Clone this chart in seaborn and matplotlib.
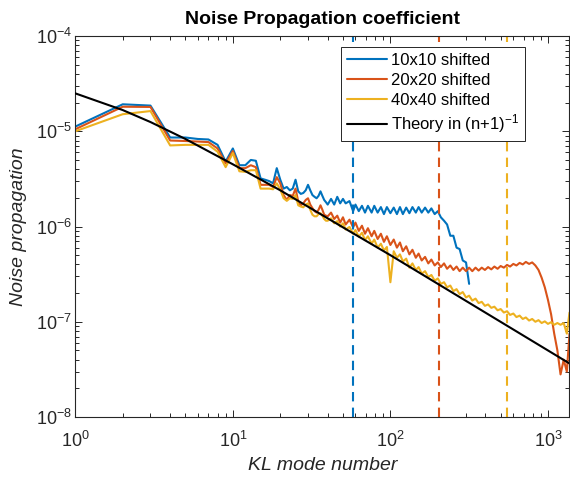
import numpy as np
import pandas as pd
import matplotlib
matplotlib.use("Agg")
import matplotlib.pyplot as plt
from matplotlib.lines import Line2D
from matplotlib.ticker import LogLocator, NullFormatter
import seaborn as sns

# ---------------- data (values in units of 1e-7) ----------------
UNIT = 1e-7

early_modes = list(range(1, 40))
grid_modes = [40, 42, 44, 46, 48, 50, 52, 55, 58, 60, 63, 66, 69, 72, 76, 79, 83, 87, 91, 95,
              100, 105, 110, 115, 120, 126, 132, 138, 145, 151, 158, 166, 174, 182, 191, 200,
              209, 219, 229, 240, 251, 263, 275, 288, 302, 316, 331, 347, 363, 380, 398, 417,
              437, 457, 479, 501, 525, 550, 575, 603, 631, 661, 692, 724, 759, 794, 832, 871,
              912, 955, 1000, 1047, 1096, 1148, 1202, 1259, 1318, 1370]

blue_early = [112, 192, 186, 86, 86, 83, 82, 72, 48, 66, 44, 44, 50, 49, 32, 31, 30, 28.4, 41, 31,
              25, 26, 24, 25, 31, 23.4, 22, 22.5, 24, 27.4, 24, 21.4, 20.5, 19.8, 21, 23.4, 21, 19, 18]
blue_grid = [17, 19.5, 17, 20.5, 17.5, 19.5, 17.5, 18.5, 14.5, 17, 14.5, 16.5, 14, 16.5, 14, 16.5,
             14, 16, 13.5, 16, 13.8, 15.8, 13.5, 16, 13.5, 15.8, 13.8, 16, 14, 16, 14, 15.8, 14,
             15.5, 13.5, 14.5, 12.5, 11.5, 10.5, 8, 8, 6, 5.8, 4.4, 4.2, 2.5]

red_early = [105, 181, 180, 80, 79, 78, 77, 66, 46, 62, 41, 41, 44, 42, 27.4, 27.4, 27.4, 26, 33,
             28.4, 21.4, 19, 21.4, 21, 25, 18.3, 16.7, 17.5, 19, 19.8, 17, 15.6, 14.5, 14, 15,
             16.7, 15, 13.3, 13]
red_grid = [12.8, 14, 12, 13, 11, 12.5, 10.5, 11.8, 9.8, 11, 9, 10.2, 8.4, 9.6, 7.9, 9, 7.4, 8.4,
            6.9, 7.9, 6.4, 7.3, 6.0, 6.8, 5.5, 6.2, 5.1, 5.7, 4.7, 5.2, 4.4, 4.8, 4.1, 4.5, 3.9,
            4.2, 3.75, 4.1, 3.6, 3.9, 3.5, 3.8, 3.4, 3.7, 3.4, 3.7, 3.4, 3.7, 3.45, 3.7, 3.5,
            3.75, 3.55, 3.8, 3.6, 3.85, 3.7, 3.95, 3.8, 4.05, 3.9, 4.15, 4.0, 4.25, 4.05, 4.2,
            3.9, 3.5, 2.9, 2.3, 1.7, 1.2, 0.75, 0.5, 0.28, 0.4, 0.3, 0.75]

yellow_early = [100, 151, 163, 71, 72, 72, 72, 61, 42, 59, 38, 37.5, 39, 39, 25, 25, 25, 24.6,
                28.4, 24.5, 19.8, 18.6, 19.8, 19.5, 21.4, 16.7, 16.2, 15.9, 17, 17.5, 15, 13.3,
                12.8, 12.8, 13.5, 13.8, 13, 12, 11.5]
yellow_grid = [11.5, 12.2, 10.8, 11.4, 10, 10.8, 9.3, 9.9, 8.4, 9.2, 7.8, 8.6, 7.2, 7.9, 6.6, 7.3,
               6.0, 6.6, 5.6, 6.1, 2.6, 5.5, 4.7, 5.1, 4.3, 4.6, 3.7, 4.1, 3.5, 3.75, 3.2, 3.4,
               2.95, 3.1, 2.7, 2.85, 2.5, 2.6, 2.3, 2.4, 2.1, 2.2, 1.95, 2.05, 1.8, 1.88, 1.67,
               1.75, 1.57, 1.62, 1.47, 1.52, 1.4, 1.44, 1.32, 1.36, 1.25, 1.29, 1.18, 1.22, 1.12,
               1.16, 1.07, 1.11, 1.03, 1.07, 1.0, 1.04, 0.97, 1.01, 0.95, 0.99, 0.93, 0.97, 0.93,
               0.97, 0.75, 1.25]

theory_modes = [1, 2, 3, 5, 10, 20, 50, 100, 200, 500, 1000, 1370]
theory_values = [250, 167, 125, 83, 45, 24, 9.8, 5.0, 2.5, 1.0, 0.5, 0.365]

series_names = ["10x10 shifted", "20x20 shifted", "40x40 shifted"]
series_colors = ["#0072BD", "#D95319", "#EDB120"]
cutoff_modes = [58, 203, 552]
theory_label = r"Theory in (n+1)$^{-1}$"

# ---------------- build table ----------------
rows = []
all_modes = early_modes + grid_modes
for name, early, grid in zip(series_names,
                             [blue_early, red_early, yellow_early],
                             [blue_grid, red_grid, yellow_grid]):
    vals = early + grid
    for m, v in zip(all_modes[:len(vals)], vals):
        rows.append({"mode": m, "value": v * UNIT, "series": name})
df = pd.DataFrame(rows)
theory_df = pd.DataFrame({"mode": theory_modes, "value": [v * UNIT for v in theory_values]})

# ---------------- style ----------------
sns.set_theme(style="ticks")
plt.rcParams["font.family"] = ["Liberation Sans", "DejaVu Sans"]
plt.rcParams["mathtext.fontset"] = "custom"
plt.rcParams["mathtext.rm"] = "Liberation Sans"
plt.rcParams["mathtext.it"] = "Liberation Sans:italic"
plt.rcParams["mathtext.bf"] = "Liberation Sans:bold"
plt.rcParams["axes.unicode_minus"] = False

dark = "#262626"
fig = plt.figure(figsize=(5.70, 4.79), dpi=100)
ax = fig.add_axes([0.1321, 0.1294, 0.8670, 0.7954])
ax.set_xscale("log")
ax.set_yscale("log")

palette = dict(zip(series_names, series_colors))
sns.lineplot(data=df, x="mode", y="value", hue="series", hue_order=series_names,
             palette=palette, estimator=None, linewidth=1.5, ax=ax, legend=False)
sns.lineplot(data=theory_df, x="mode", y="value", color="black", linewidth=1.5,
             estimator=None, ax=ax, legend=False, zorder=3)
ax.vlines(cutoff_modes, 1e-8, 1e-4, colors=series_colors, linestyles=[(0, (4.5, 3.0))],
          linewidth=1.5, zorder=2.5)

ax.set_xlim(1, 1370)
ax.set_ylim(1e-8, 1e-4)

ax.xaxis.set_major_locator(LogLocator(base=10, numticks=10))
ax.xaxis.set_minor_locator(LogLocator(base=10, subs=np.arange(2, 10), numticks=20))
ax.yaxis.set_major_locator(LogLocator(base=10, numticks=10))
ax.yaxis.set_minor_locator(LogLocator(base=10, subs=np.arange(2, 10), numticks=20))
ax.xaxis.set_minor_formatter(NullFormatter())
ax.yaxis.set_minor_formatter(NullFormatter())

ax.tick_params(which="both", direction="in", top=True, right=True, color=dark,
               labelcolor=dark, width=0.7)
ax.tick_params(which="major", length=5, labelsize=13)
ax.tick_params(which="minor", length=2.8)
ax.tick_params(axis="x", which="major", pad=10)
ax.tick_params(axis="y", which="major", pad=2.5)
for s in ax.spines.values():
    s.set_color(dark)
    s.set_linewidth(0.8)

ax.set_xlabel("KL mode number", fontsize=14, style="italic", color=dark, labelpad=4)
ax.set_ylabel("Noise propagation", fontsize=14, style="italic", color=dark, labelpad=6)
ax.set_title("Noise Propagation coefficient", fontsize=14, fontweight="bold", color="black",
             pad=9)

handles = [Line2D([0], [0], color=c, lw=1.5) for c in series_colors]
handles.append(Line2D([0], [0], color="black", lw=1.5))
leg = ax.legend(handles, series_names + [theory_label], loc="upper left",
                bbox_to_anchor=(0.5385, 0.972), fontsize=12, frameon=True, fancybox=False,
                framealpha=1, edgecolor=dark, handlelength=2.4, handletextpad=0.25,
                labelspacing=0.3, borderpad=0.35, borderaxespad=0)
leg.get_frame().set_linewidth(0.7)
for t in leg.get_texts():
    t.set_color("black")

fig.savefig("out.png", dpi=100)
